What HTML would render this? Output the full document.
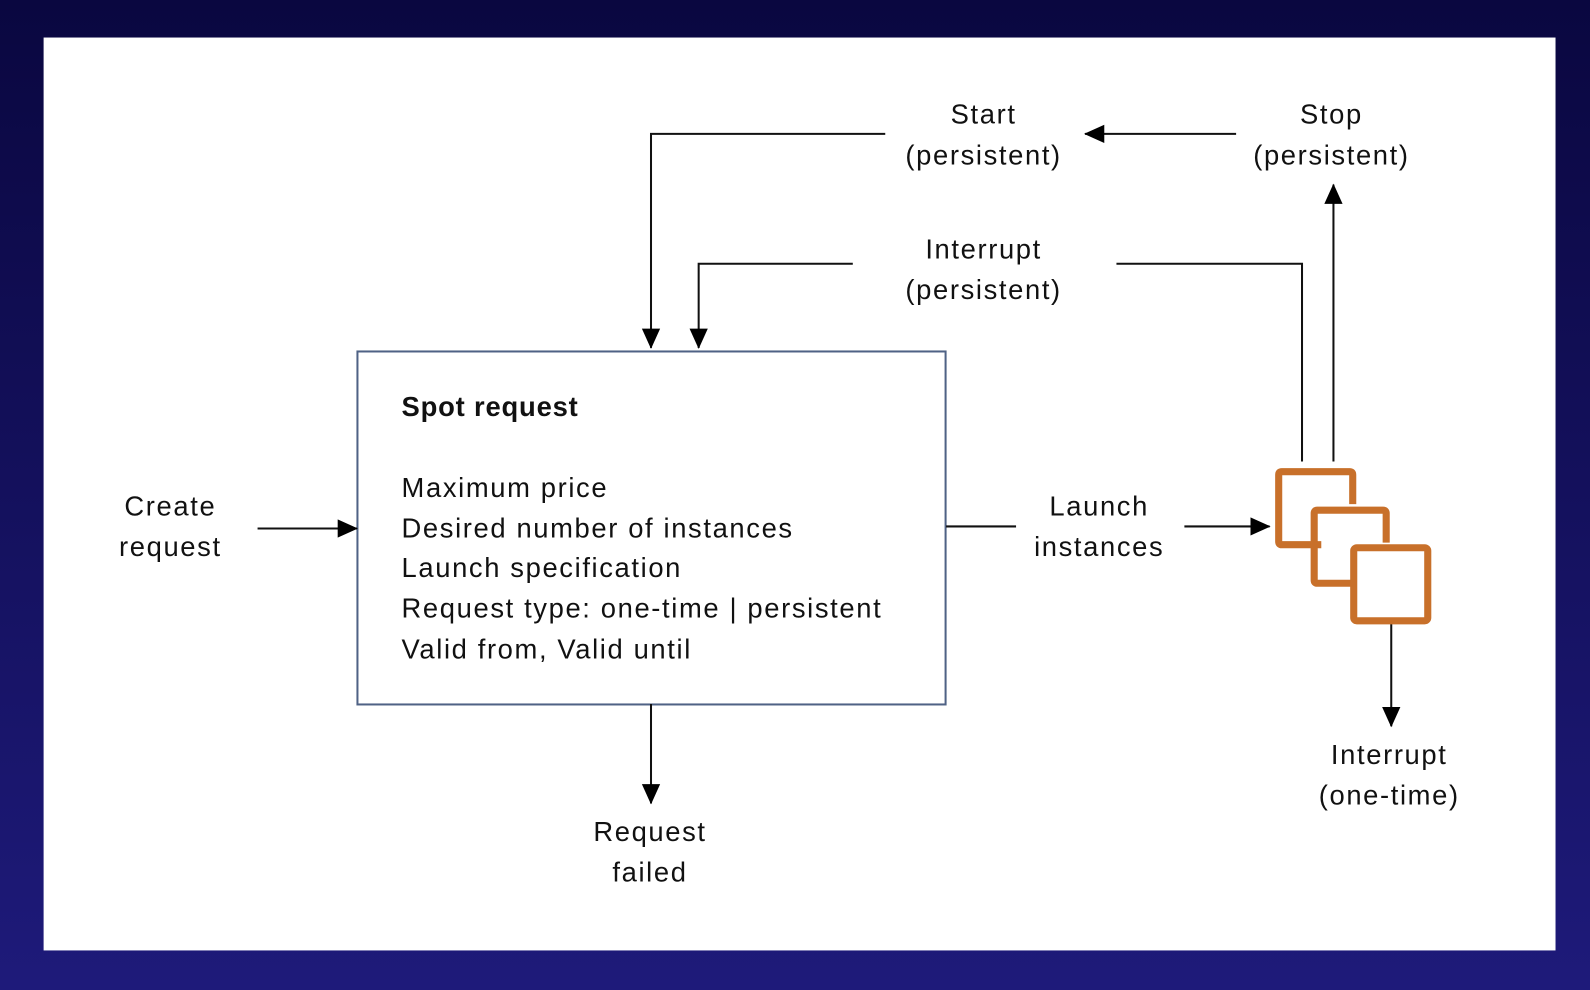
<!DOCTYPE html>
<html><head><style>
html,body{margin:0;padding:0;width:1590px;height:990px;overflow:hidden;background:#0c0a47;}
svg{display:block}
text{font-family:"Liberation Sans",sans-serif;font-size:27px;fill:#111;letter-spacing:1.6px;}
</style></head><body>
<svg width="1590" height="990" viewBox="0 0 1568 976" preserveAspectRatio="none">
<defs>
<marker id="b" markerWidth="20" markerHeight="20" refX="19" refY="10" orient="auto" markerUnits="userSpaceOnUse" viewBox="0 0 20 20">
<path d="M0,1 L20,10 L0,19 z" fill="#000"/></marker>
<linearGradient id="bg" x1="0" y1="0" x2="0" y2="1"><stop offset="0" stop-color="#0a0740"/><stop offset="1" stop-color="#1e1a7a"/></linearGradient>
</defs>
<rect width="1568" height="976" fill="url(#bg)"/>
<rect x="43" y="37" width="1491" height="900" fill="#fff"/>
<rect x="352.5" y="346.5" width="580" height="348" fill="none" stroke="#4f6285" stroke-width="2"/>
<text x="396" y="410" font-weight="bold" style="letter-spacing:0.8px">Spot request</text>
<text x="396" y="490">Maximum price</text>
<text x="396" y="530">Desired number of instances</text>
<text x="396" y="569">Launch specification</text>
<text x="396" y="609">Request type: one-time | persistent</text>
<text x="396" y="649">Valid from, Valid until</text>
<g text-anchor="middle">
<text x="168" y="508">Create</text><text x="168" y="548">request</text>
<text x="1084" y="508">Launch</text><text x="1084" y="548">instances</text>
<text x="970" y="255">Interrupt</text><text x="970" y="295">(persistent)</text>
<text x="970" y="122">Start</text><text x="970" y="162">(persistent)</text>
<text x="1313" y="122">Stop</text><text x="1313" y="162">(persistent)</text>
<text x="641" y="829">Request</text><text x="641" y="869">failed</text>
<text x="1370" y="753">Interrupt</text><text x="1370" y="793">(one-time)</text>
</g>
<g fill="none" stroke="#111" stroke-width="2">
<path d="M254,521 H352" marker-end="url(#b)"/>
<path d="M933,519 H1002"/>
<path d="M1168,519 H1252" marker-end="url(#b)"/>
<path d="M1284,455 V260 H1101"/>
<path d="M841,260 H689 V343" marker-end="url(#b)"/>
<path d="M1315,455 V182" marker-end="url(#b)"/>
<path d="M1219,132 H1070" marker-end="url(#b)"/>
<path d="M873,132 H642 V343" marker-end="url(#b)"/>
<path d="M642,694 V792" marker-end="url(#b)"/>
<path d="M1372,614 V716" marker-end="url(#b)"/>
</g>
<g fill="none" stroke="#c8702a" stroke-width="7" stroke-linejoin="round">
<path d="M1303,537 H1264 Q1261,537 1261,534 V468 Q1261,465 1264,465 H1331 Q1334,465 1334,468 V497"/>
<path d="M1337,575 H1299 Q1296,575 1296,572 V506 Q1296,503 1299,503 H1364 Q1367,503 1367,506 V535"/>
<rect x="1335" y="540" width="73" height="72" rx="3"/>
</g>
</svg>
</body></html>
